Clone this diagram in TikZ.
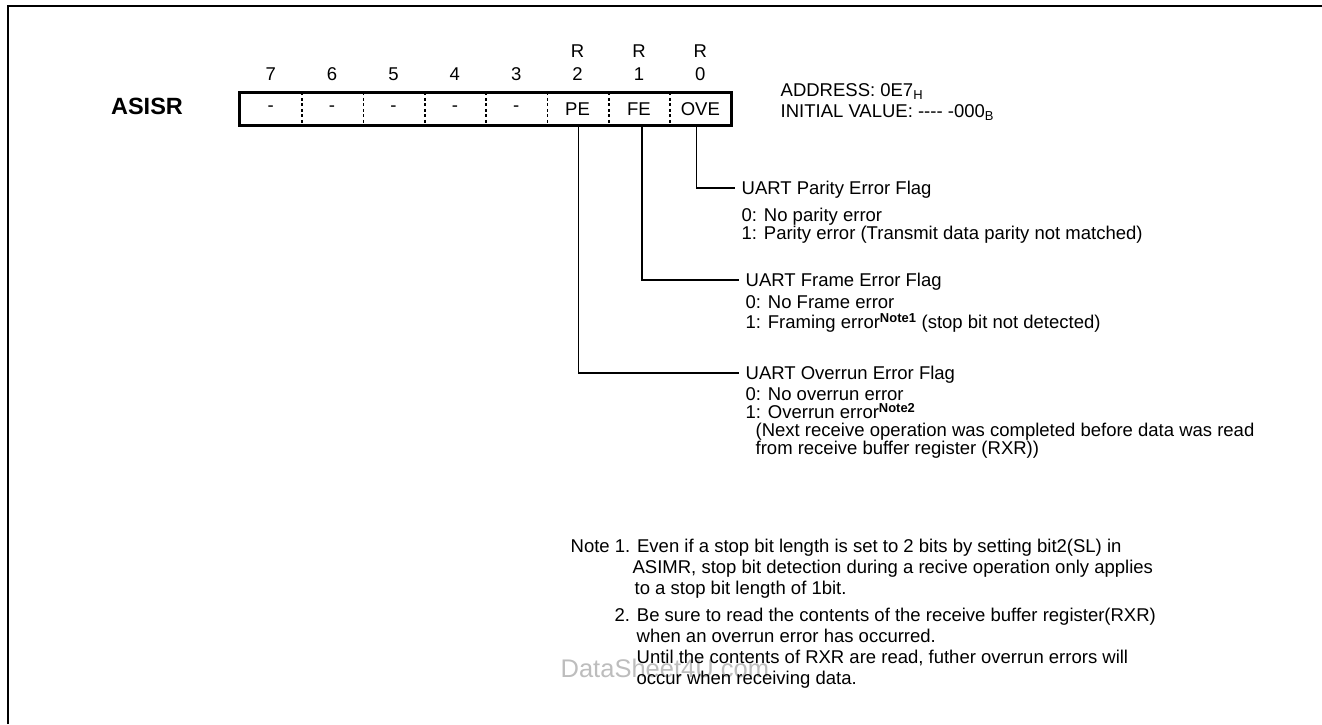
\documentclass[tikz,border=0pt]{standalone}
\usepackage{fontspec}
\setmainfont{Liberation Sans}
\usetikzlibrary{positioning}
\definecolor{wmgrey}{HTML}{BDBDBD}
\tikzset{
  every picture/.style={x=1pt, y=-1pt, line width=1.3pt},
  txt/.style={inner sep=0pt, font=\fontsize{18.5}{18.5}\selectfont},
  cell/.style={txt, minimum width=61.375pt, minimum height=32pt},
  bitno/.style={txt, text height=13.2pt, text depth=0pt},
  regbox/.style={draw, line width=3pt},
  divider/.style={line width=1.6pt, dash pattern=on 3pt off 2.5pt},
  lead/.style={draw, line width=1.3pt, shorten >=6pt},
  flag/.style={txt, anchor=west, text height=13.2pt, text depth=0pt},
  desc/.style={txt, anchor=north west, align=left},
  notetxt/.style={inner sep=0pt, anchor=north west, align=left, font=\fontsize{18.5}{21}\selectfont},
}

\begin{document}
\lineskiplimit=-20pt
\begin{tikzpicture}
  \useasboundingbox (0,0) rectangle (1322,724);
  % page frame, cut off at the right and at the bottom
  \draw[line width=2.5pt] (8,724) -- (8,6) -- (1322,6);
  % the register and its bits
  \foreach \b/\lab [count=\k from 0] in {7/-,6/-,5/-,4/-,3/-,2/PE,1/FE,0/OVE}{
    \node[cell] (b\b) at ({270.7+61.375*\k},109) {\lab};
    \node[bitno, above=11pt of b\b] (n\b) {\b};
  }
  \foreach \b in {2,1,0} \node[bitno, above=8.5pt of n\b] (r\b) {R};
  \draw[regbox] (b7.north west) rectangle (b0.south east);
  \foreach \b in {7,...,1} \draw[divider] (b\b.north east) -- (b\b.south east);
  \node[font=\bfseries\fontsize{23.5}{23.5}\selectfont] (reg) at (147,106) {ASISR};
  \node[txt, anchor=west] (addr) at (780,92) {ADDRESS: 0E7\textsubscript{H}};
  \node[txt, anchor=west] (init) at (780,113) {INITIAL VALUE: -{}-{}-{}- -000\textsubscript{B}};
  % flags
  \node[flag] (parflag) at (741,188) {UART Parity Error Flag};
  \node[desc, font=\fontsize{18.5}{18}\selectfont] (pardesc) at (741,207.4) {0: No parity error\\1: Parity error (Transmit data parity not matched)};
  \node[flag] (frmflag) at (745,280) {UART Frame Error Flag};
  \node[desc, font=\fontsize{18.5}{19.5}\selectfont] (frmdesc) at (745,295.4) {0: No Frame error\\1: Framing error\textsuperscript{\bfseries Note1} (stop bit not detected)};
  \node[flag] (ovrflag) at (745,373) {UART Overrun Error Flag};
  \node[desc, font=\fontsize{18.5}{18}\selectfont] (ovrdesc) at (745,387.4) {0: No overrun error\\1: Overrun error\textsuperscript{\bfseries Note2}\\
    \hspace*{10pt}(Next receive operation was completed before data was read\\
    \hspace*{10pt}from receive buffer register (RXR))};
  \draw[lead] ([xshift=-4pt]b0.south) |- (parflag.west);
  \draw[lead] ([xshift=3pt]b1.south) |- (frmflag.west);
  \draw[lead] ([xshift=1pt]b2.south) |- (ovrflag.west);
  % notes
  \node[anchor=west, inner sep=0pt, text=wmgrey, font=\fontsize{25.5}{25.5}\selectfont] (wmark) at (560,668) {DataSheet4U.com};
  \node[notetxt] (note1) at (570,538.3) {Note 1. Even if a stop bit length is set to 2 bits by setting bit2(SL) in\\
    \hspace*{62pt}ASIMR, stop bit detection during a recive operation only applies\\
    \hspace*{64pt}to a stop bit length of 1bit.};
  \node[notetxt] (note2) at (614,607.3) {2. Be sure to read the contents of the receive buffer register(RXR)\\
    \hspace*{22pt}when an overrun error has occurred.\\
    \hspace*{22pt}Until the contents of RXR are read, futher overrun errors will\\
    \hspace*{22pt}occur when receiving data.};
\end{tikzpicture}
\end{document}
